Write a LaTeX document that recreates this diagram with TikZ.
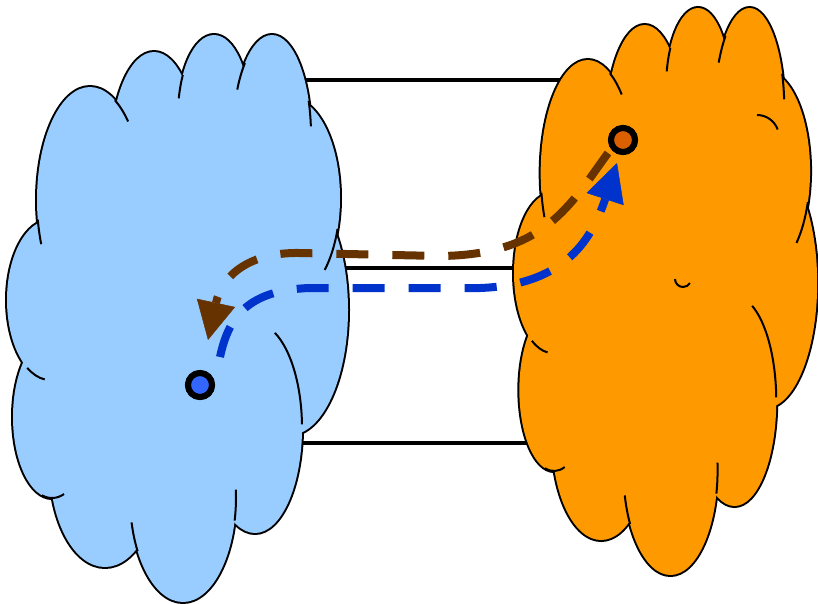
\documentclass[tikz,border=0pt]{standalone}
\usetikzlibrary{arrows.meta}
\definecolor{cloudblue}{HTML}{99CCFF}
\definecolor{cloudorange}{HTML}{FF9900}
\definecolor{arrowbrown}{HTML}{663300}
\definecolor{arrowblue}{HTML}{0033CC}
\definecolor{dotblue}{HTML}{3366FF}
\definecolor{dotorange}{HTML}{DD6000}
% lobes of the cloud: centre x / centre y / x radius / y radius (pixel frame, y down)
\def\lobelist{90/200/53/113, 154/152/43/100, 214/115/36/80, 272/135/39/100,
  290/198/50/100, 290/310/58/125, 255/428/47/105, 183/497/53/105,
  105/467/55/100, 52/417/39/81, 50/300/43/80}
% interior arc fragments: centre x / centre y / rx / ry / start / end
\def\fraglist{90/200/53/113/-62/-44, 214/115/36/80/210/192, 272/135/39/100/226/207,
  272/135/39/100/-20/-5, 290/198/50/100/18/46, 255/428/47/105/-2/-65,
  183/497/53/105/13/-4, 183/497/53/105/149/166, 52/417/39/81/105/72,
  50/300/43/80/122/97, 90/200/53/113/170/157}
\newcommand\drawmycloud[1]{%
  \foreach \ea/\eb/\ec/\ed in \lobelist {\draw[cloudedge] (\ea,\eb) ellipse [x radius=\ec, y radius=\ed];}
  \fill[#1] (90,200) -- (154,152) -- (214,115) -- (272,135) -- (290,198) -- (290,310)
     -- (255,428) -- (183,497) -- (105,467) -- (52,417) -- (50,300) -- cycle;
  \foreach \ea/\eb/\ec/\ed in \lobelist {\fill[#1] (\ea,\eb) ellipse [x radius=\ec, y radius=\ed];}
  \foreach \ea/\eb/\ec/\ed/\fa/\fb in \fraglist {\draw[cloudfrag] ({\ea+\ec*cos(\fa)},{\eb+\ed*sin(\fa)}) arc [start angle=\fa, end angle=\fb, x radius=\ec, y radius=\ed];}
}
\tikzset{
  cloudedge/.style={draw=black, line width=4pt},
  cloudfrag/.style={draw=black, line width=2pt},
  link/.style={draw=black, line width=3.5pt},
  brownarr/.style={draw=arrowbrown, line width=8pt, dash pattern=on 32pt off 24pt,
     -{Triangle[length=38pt, width=39pt, line width=0.5pt]}},
  bluearr/.style={draw=arrowblue, line width=8pt, dash pattern=on 32pt off 24pt,
     -{Triangle[length=38pt, width=39pt, line width=0.5pt]}},
  dotnode/.style={circle, draw=black, line width=6pt, inner sep=0pt, minimum size=24pt}
}
\begin{document}
\begin{tikzpicture}[x=1pt, y=-1pt]
\useasboundingbox (0,0) rectangle (818,603);
% connecting lines (behind the clouds)
\coordinate (t1) at (300,80);  \coordinate (t2) at (580,80);
\coordinate (m1) at (338,268); \coordinate (m2) at (530,268);
\coordinate (b1) at (292,443); \coordinate (b2) at (545,443);
\draw[link] (t1) -- (t2);
\draw[link] (m1) -- (m2);
\draw[link] (b1) -- (b2);
% blue cloud
\drawmycloud{cloudblue}
% orange cloud (same outline, narrower)
\begin{scope}[shift={(507.78,-27)}, xscale=0.889]
  \drawmycloud{cloudorange}
\end{scope}
\draw[cloudfrag] (757,115) arc [start angle=270, end angle=340, x radius=22, y radius=22];
\draw[cloudfrag] (675,279) arc [start angle=180, end angle=30, x radius=8, y radius=8];
% dots
\node[dotnode, fill=dotblue] (bd) at (200,385) {};
\node[dotnode, fill=dotorange] (od) at (623,140) {};
% arrows
\coordinate (bs) at (608,153);
\coordinate (be) at (208,340);
\coordinate (cs) at (220,357);
\coordinate (ce) at (617,163);
\draw[brownarr] (bs) .. controls (570,205) and (545,255) .. (440,256) -- (300,253)
   .. controls (250,252) and (222,275) .. (be);
\draw[bluearr] (cs) .. controls (228,320) and (245,290) .. (310,288) -- (480,288)
   .. controls (560,285) and (590,245) .. (ce);
\node[dotnode, fill=dotblue] at (bd) {};
\node[dotnode, fill=dotorange] at (od) {};
\end{tikzpicture}
\end{document}
